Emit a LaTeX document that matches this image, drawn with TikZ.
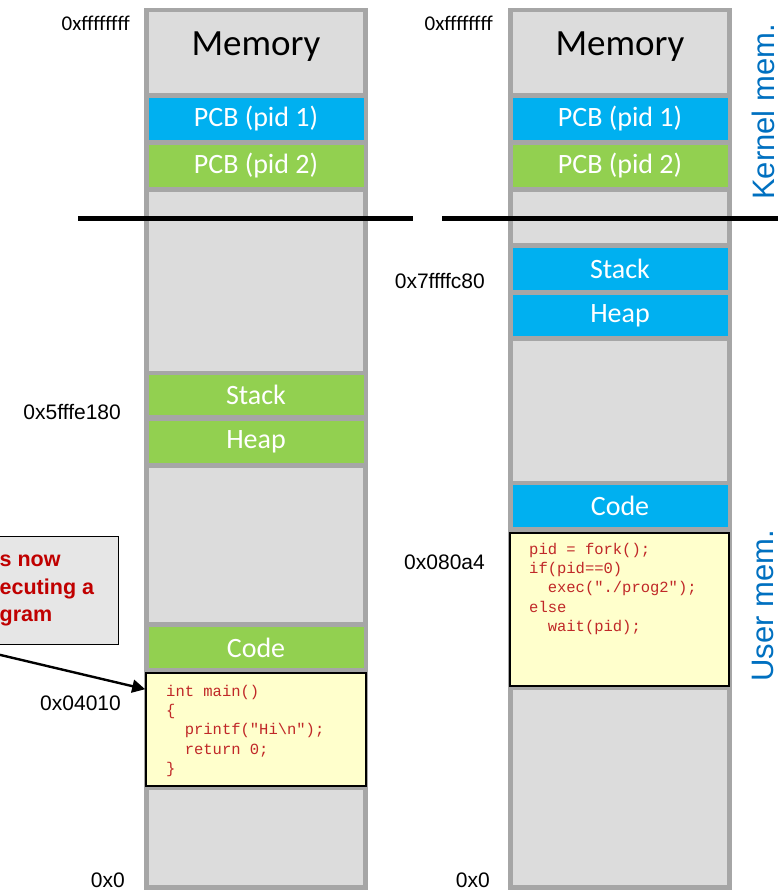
\documentclass[tikz,border=0pt]{standalone}
\usepackage{fontspec}
\setmainfont{Carlito}
\newfontfamily\arialf{Liberation Sans}
\newfontfamily\courf{Liberation Mono}
\usetikzlibrary{arrows.meta}
\definecolor{colborder}{RGB}{166,166,166}
\definecolor{seggray}{RGB}{220,220,220}
\definecolor{pblue}{RGB}{0,176,240}
\definecolor{pgreen}{RGB}{146,208,80}
\definecolor{codebg}{RGB}{255,255,204}
\definecolor{codered}{RGB}{192,40,40}
\definecolor{labblue}{RGB}{0,112,192}
\definecolor{calloutred}{RGB}{192,0,0}
\definecolor{calloutbg}{RGB}{230,230,230}
\tikzset{
  colbg/.style={fill=colborder, draw=none},
  seg/.style={fill=seggray, draw=none},
  blk/.style={rectangle, draw=none, inner sep=0pt, minimum width=215pt, text=white, font=\fontsize{28}{30}\selectfont},
  memtitle/.style={inner sep=0pt, font=\fontsize{37}{40}\selectfont, text=black},
  addr/.style={inner sep=0pt, anchor=east, font=\arialf\fontsize{21}{24}\selectfont},
  addrc/.style={inner sep=0pt, anchor=east, font=\fontsize{21}{24}\selectfont},
  codebox/.style={rectangle, draw=black, line width=1.6pt, fill=codebg, inner sep=0pt},
  codetext/.style={inner sep=0pt, anchor=north west, align=left, text=codered, font=\courf\fontsize{15.5}{19.2}\selectfont},
  sidelab/.style={inner sep=0pt, rotate=90, text=labblue, font=\arialf\fontsize{31}{34}\selectfont},
  sep/.style={line width=5pt, black},
}
\begin{document}
\begin{tikzpicture}[x=1pt,y=-1pt]
\useasboundingbox (0,0) rectangle (779,890);
\begin{scope}
\clip (0,0) rectangle (779,890);

% ---------- left column ----------
\fill[colbg] (143.5,8) rectangle (368,890);
\fill[seg] (148.5,12.5) rectangle (363,93.5);
\fill[seg] (148.5,192) rectangle (363,370.5);
\fill[seg] (148.5,467.5) rectangle (363,621.5);
\fill[seg] (148.5,790) rectangle (363,885);
\node[memtitle] (memL) at (256,47) {Memory};
\node[blk, fill=pblue, minimum height=42pt] (pcb1L) at (256,119) {PCB (pid 1)};
\node[blk, fill=pgreen, minimum height=42pt] (pcb2L) at (256,166) {PCB (pid 2)};
\node[blk, fill=pgreen, minimum height=40pt] (stackL) at (256,395) {Stack};
\node[blk, fill=pgreen, minimum height=42pt] (heapL) at (256,442) {Heap};
\node[blk, fill=pgreen, minimum height=41pt] (codeL) at (256,647.5) {Code};
\node[codebox, minimum width=220pt, minimum height=113pt] (cbL) at (256,729.5) {};
\node[codetext] (ctL) at (166,685) {int main()\\\{\\\hspace*{1.2em}printf("Hi\textbackslash n");\\\hspace*{1.2em}return 0;\\\}};

% ---------- right column ----------
\fill[colbg] (507.5,8) rectangle (732,890);
\fill[seg] (512.5,12.5) rectangle (727,93.5);
\fill[seg] (512.5,192) rectangle (727,243.5);
\fill[seg] (512.5,341) rectangle (727,481);
\fill[seg] (512.5,690) rectangle (727,885);
\node[memtitle] (memR) at (620,47) {Memory};
\node[blk, fill=pblue, minimum height=42pt] (pcb1R) at (620,119) {PCB (pid 1)};
\node[blk, fill=pgreen, minimum height=42pt] (pcb2R) at (620,166) {PCB (pid 2)};
\node[blk, fill=pblue, minimum height=42pt] (stackR) at (620,269) {Stack};
\node[blk, fill=pblue, minimum height=41pt] (heapR) at (620,315.5) {Heap};
\node[blk, fill=pblue, minimum height=42pt] (codeR) at (620,506) {Code};
\node[codebox, minimum width=219pt, minimum height=153pt] (cbR) at (619.5,609.5) {};
\node[codetext] (ctR) at (529,543) {pid = fork();\\if(pid==0)\\\hspace*{1.2em}exec("./prog2");\\else\\\hspace*{1.2em}wait(pid);};

% ---------- separator ----------
\coordinate (sepL1) at (78,219);
\coordinate (sepL2) at (413,219);
\coordinate (sepR1) at (442,219);
\coordinate (sepR2) at (778,219);
\draw[sep] (sepL1) -- (sepL2);
\draw[sep] (sepR1) -- (sepR2);

% ---------- address labels ----------
\node[addrc] (aTopL) at (130,23) {0xffffffff};
\node[addr] (aStackL) at (121,412) {0x5fffe180};
\node[addr] (aCodeL) at (121,703) {0x04010};
\node[addr] (aZeroL) at (125,880) {0x0};
\node[addrc] (aTopR) at (493,23) {0xffffffff};
\node[addr] (aStackR) at (485,281) {0x7ffffc80};
\node[addr] (aCodeR) at (485,562) {0x080a4};
\node[addr] (aZeroR) at (490,880) {0x0};

% ---------- side labels ----------
\node[sidelab] (kern) at (763,112) {Kernel mem.};
\node[sidelab] (user) at (763,606) {User mem.};

% ---------- callout ----------
\node[rectangle, draw=black, line width=1pt, fill=calloutbg, minimum width=160pt, minimum height=108pt, inner sep=0pt] (callout) at (38,590) {};
\node[inner sep=0pt, anchor=north west, align=left, text=calloutred, font=\arialf\bfseries\fontsize{21.5}{27.5}\selectfont] (callouttext) at (-0.5,555) {s now\\ecuting a\\gram};
\coordinate (arrStart) at (-10,652.5);
\draw[line width=2.4pt, -{Triangle[length=13pt, width=13pt]}] (arrStart) -- ([yshift=-17pt]cbL.north west);
\end{scope}
\end{tikzpicture}
\end{document}
